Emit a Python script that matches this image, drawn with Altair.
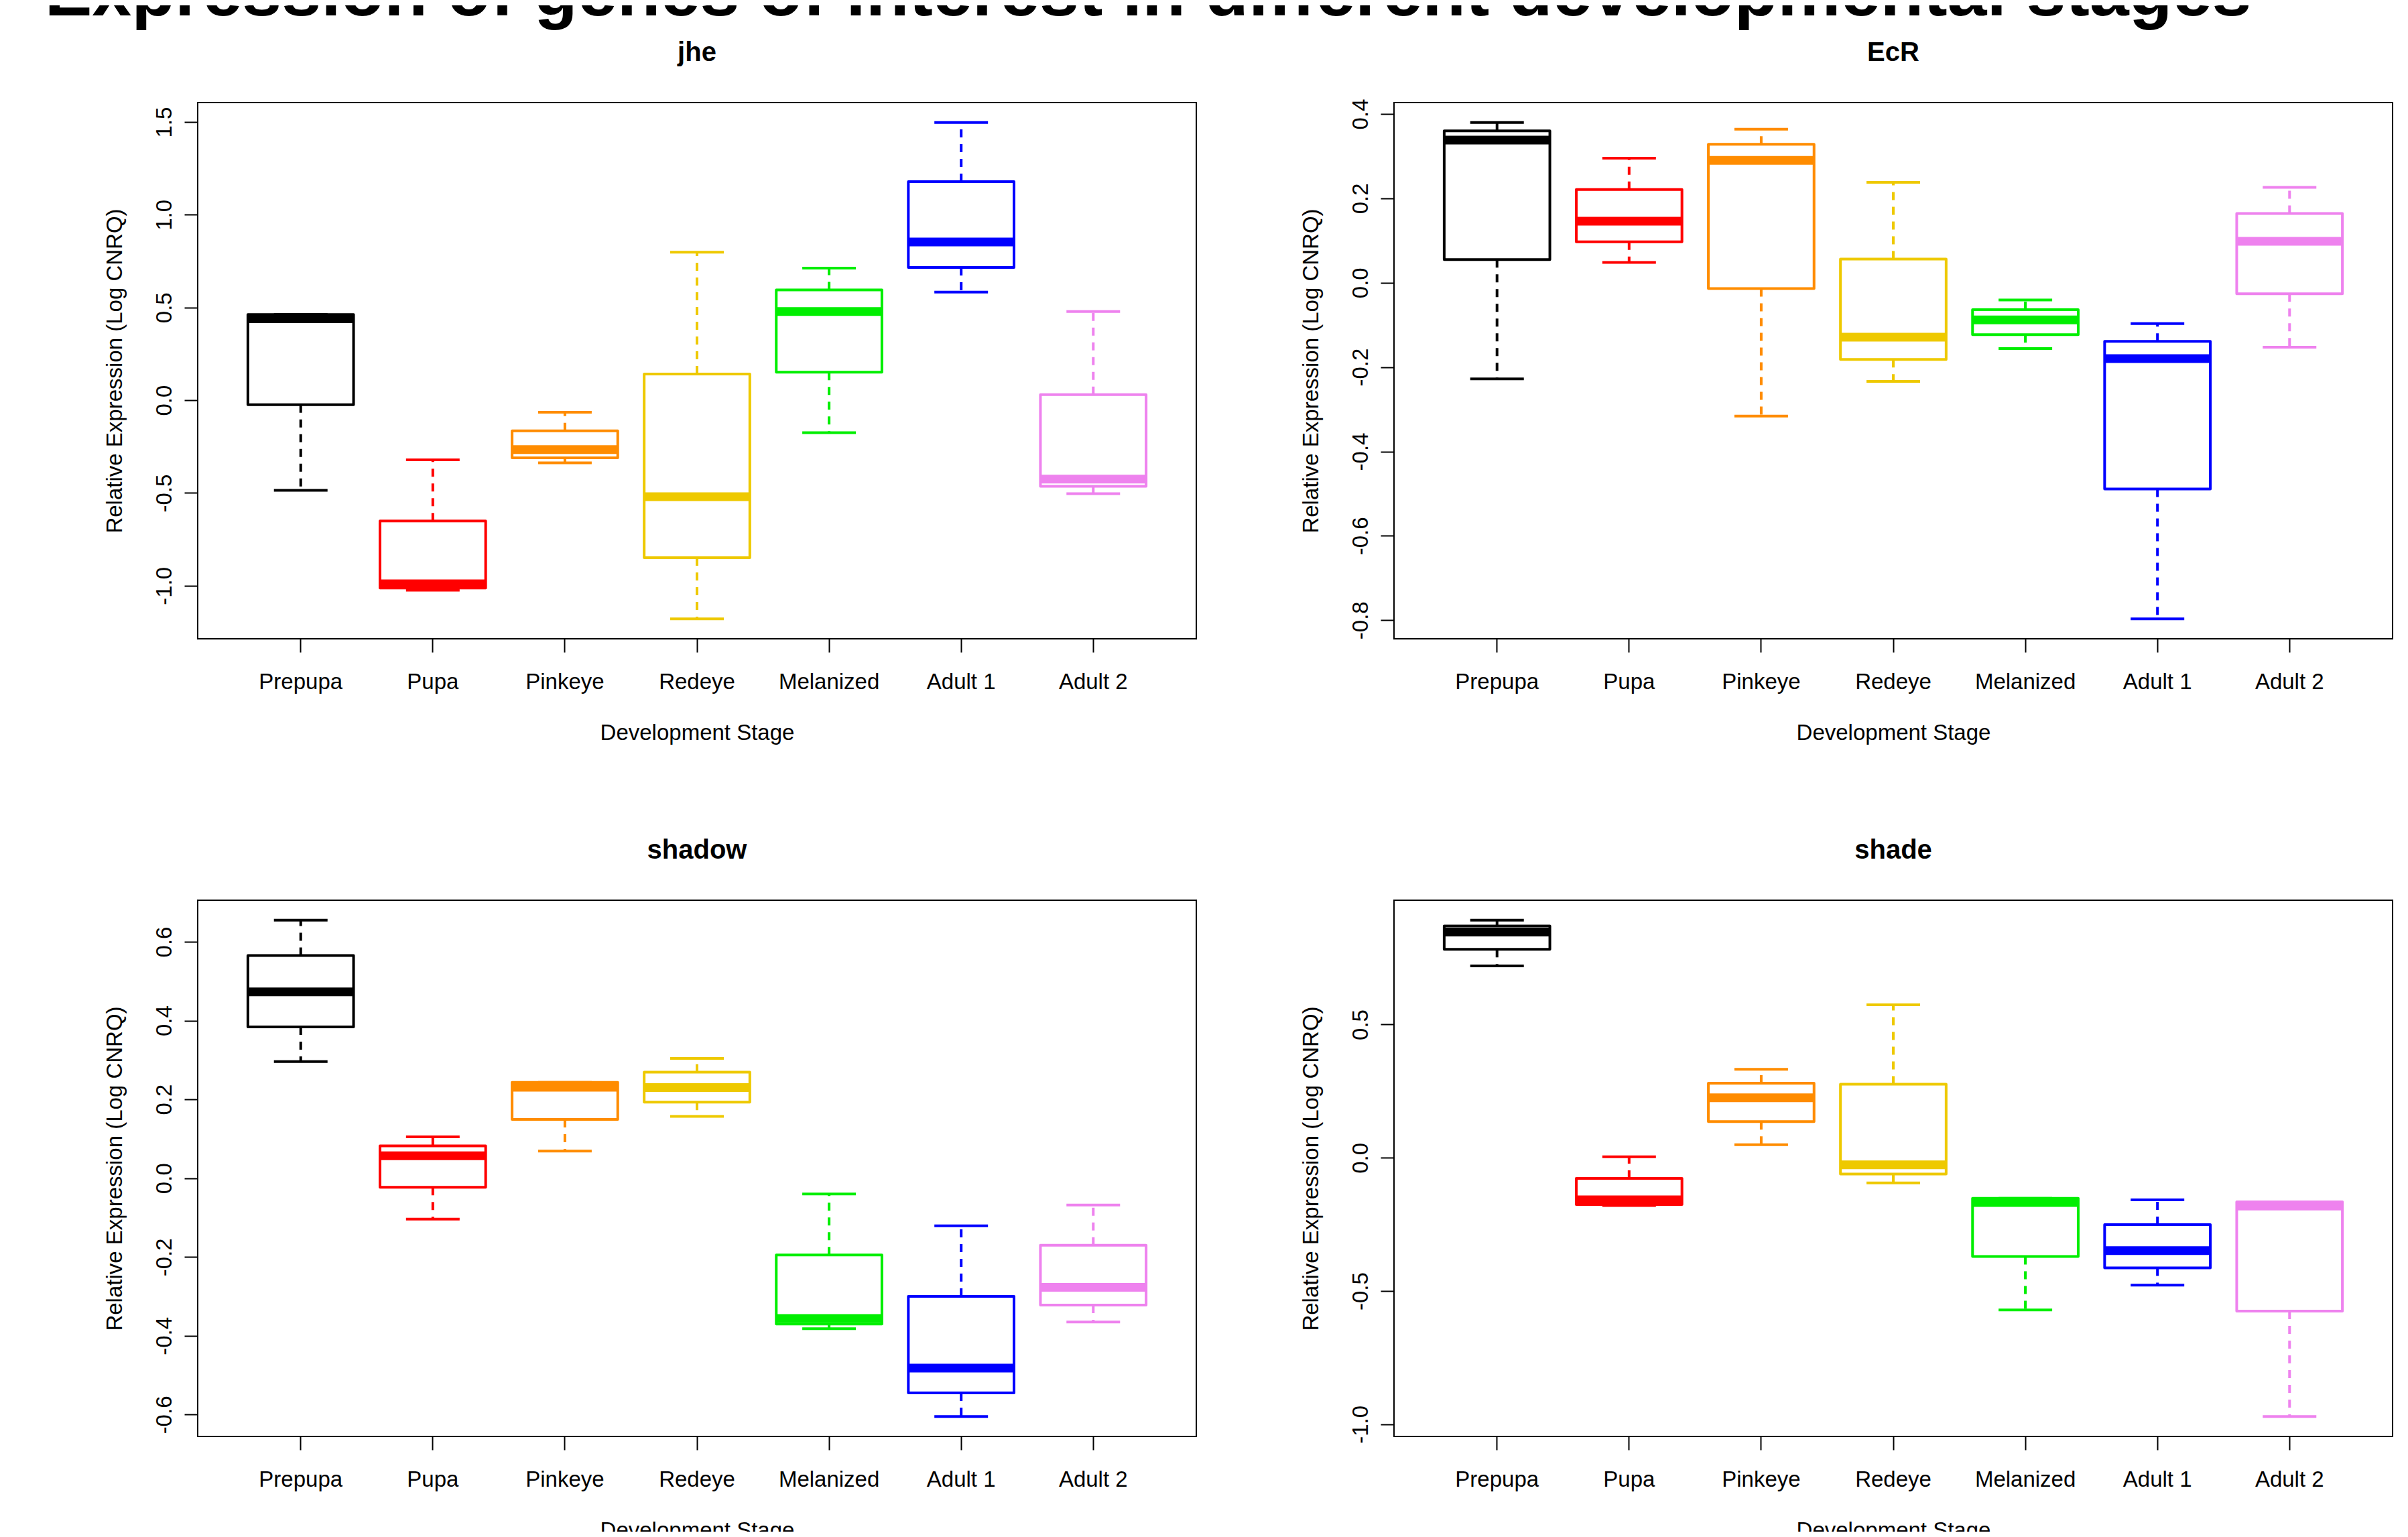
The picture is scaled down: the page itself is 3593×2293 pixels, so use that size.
import altair as alt
import pandas as pd

FONT = "Liberation Sans"

main_title = "Expression of genes of interest in different developmental stages"
x_title = "Development Stage"
y_title = "Relative Expression (Log CNRQ)"

stages = ["Prepupa", "Pupa", "Pinkeye", "Redeye", "Melanized", "Adult 1", "Adult 2"]
stage_colors = ["#000000", "#FF0000", "#FF8C00", "#EEC900", "#00EE00", "#0000FF", "#EE82EE"]

# jhe
jhe_min = [-0.486, -1.024, -0.337, -1.179, -0.175, 0.583, -0.504]
jhe_q1 = [-0.024, -1.012, -0.310, -0.849, 0.151, 0.716, -0.464]
jhe_med = [0.440, -0.990, -0.266, -0.520, 0.478, 0.853, -0.425]
jhe_q3 = [0.462, -0.651, -0.165, 0.141, 0.595, 1.179, 0.030]
jhe_max = [0.462, -0.321, -0.065, 0.798, 0.712, 1.498, 0.478]
jhe_ticks = [-1.0, -0.5, 0.0, 0.5, 1.0, 1.5]

# EcR
ecr_min = [-0.228, 0.048, -0.316, -0.234, -0.156, -0.797, -0.153]
ecr_q1 = [0.055, 0.097, -0.014, -0.182, -0.123, -0.489, -0.026]
ecr_med = [0.338, 0.146, 0.290, -0.129, -0.088, -0.180, 0.098]
ecr_q3 = [0.360, 0.221, 0.328, 0.056, -0.064, -0.139, 0.164]
ecr_max = [0.380, 0.295, 0.364, 0.238, -0.041, -0.097, 0.226]
ecr_ticks = [-0.8, -0.6, -0.4, -0.2, 0.0, 0.2, 0.4]

# shadow
shadow_min = [0.296, -0.104, 0.069, 0.157, -0.382, -0.605, -0.365]
shadow_q1 = [0.384, -0.023, 0.149, 0.193, -0.370, -0.545, -0.322]
shadow_med = [0.473, 0.057, 0.231, 0.230, -0.356, -0.482, -0.277]
shadow_q3 = [0.565, 0.082, 0.243, 0.269, -0.195, -0.300, -0.170]
shadow_max = [0.655, 0.105, 0.243, 0.304, -0.040, -0.121, -0.068]
shadow_ticks = [-0.6, -0.4, -0.2, 0.0, 0.2, 0.4, 0.6]

# shade
shade_min = [0.720, -0.179, 0.049, -0.094, -0.571, -0.478, -0.971]
shade_q1 = [0.782, -0.175, 0.136, -0.061, -0.370, -0.413, -0.575]
shade_med = [0.847, -0.158, 0.225, -0.026, -0.168, -0.348, -0.181]
shade_q3 = [0.870, -0.077, 0.280, 0.276, -0.152, -0.251, -0.165]
shade_max = [0.892, 0.004, 0.332, 0.574, -0.152, -0.158, -0.165]
shade_ticks = [-1.0, -0.5, 0.0, 0.5]

W, H = 1490, 800


def panel(gene, lo, q1, med, q3, hi, ticks, with_main=False):
    df = pd.DataFrame({"stage": stages, "color": stage_colors, "lo": lo,
                       "q1": q1, "med": med, "q3": q3, "hi": hi})
    vmin, vmax = min(lo), max(hi)
    ext = 0.04 * (vmax - vmin)
    yscale = alt.Scale(domain=[vmin - ext, vmax + ext], nice=False, zero=False)
    xaxis = alt.Axis(title=x_title, labelAngle=0, labelPadding=54,
                     labelBaseline="alphabetic", titleY=150,
                     titleBaseline="alphabetic")
    yaxis = alt.Axis(title=y_title, values=ticks, format=".1f",
                     labelExpr="replace(datum.label, '\u2212', '-')",
                     labelAngle=270, labelAlign="center",
                     labelBaseline="alphabetic", labelPadding=20,
                     titleX=-114, titleAngle=270, titleBaseline="alphabetic")
    xenc = alt.X("stage:N", sort=stages, axis=xaxis,
                 scale=alt.Scale(type="band", paddingInner=0.2, paddingOuter=0.38))
    col = alt.Color("color:N", scale=None)
    base = alt.Chart(df)

    upper = base.mark_rule(strokeWidth=4, strokeDash=[12, 10]).encode(
        x=xenc, y=alt.Y("q3:Q", scale=yscale, axis=yaxis), y2="hi:Q", color=col)
    lower = base.mark_rule(strokeWidth=4, strokeDash=[12, 10]).encode(
        x=xenc, y=alt.Y("q1:Q", scale=yscale, axis=yaxis), y2="lo:Q", color=col)
    box = base.mark_bar(fill="white", strokeWidth=4, strokeJoin="round").encode(
        x=xenc, y=alt.Y("q1:Q", scale=yscale, axis=yaxis), y2="q3:Q",
        stroke=alt.Stroke("color:N", scale=None))
    median = base.mark_tick(thickness=13, size=158, opacity=1).encode(
        x=xenc, y=alt.Y("med:Q", scale=yscale, axis=yaxis), color=col)
    cap_hi = base.mark_tick(thickness=4, size=80, opacity=1).encode(
        x=xenc, y=alt.Y("hi:Q", scale=yscale, axis=yaxis), color=col)
    cap_lo = base.mark_tick(thickness=4, size=80, opacity=1).encode(
        x=xenc, y=alt.Y("lo:Q", scale=yscale, axis=yaxis), color=col)

    gene_title = alt.Chart(pd.DataFrame({"t": [gene]})).mark_text(
        font=FONT, fontSize=40, fontWeight="bold", align="center",
        baseline="alphabetic", color="black").encode(
        text="t:N", x=alt.value(W / 2), y=alt.value(-62))

    layers = [upper, lower, box, median, cap_hi, cap_lo, gene_title]
    if with_main:
        layers.append(alt.Chart(pd.DataFrame({"t": [main_title]})).mark_text(
            font=FONT, fontSize=106, fontWeight="bold", align="center",
            baseline="alphabetic", color="black").encode(
            text="t:N", x=alt.value(1418), y=alt.value(-130)))
    return alt.layer(*layers).properties(width=W, height=H)


p1 = panel("jhe", jhe_min, jhe_q1, jhe_med, jhe_q3, jhe_max, jhe_ticks, with_main=True)
p2 = panel("EcR", ecr_min, ecr_q1, ecr_med, ecr_q3, ecr_max, ecr_ticks)
p3 = panel("shadow", shadow_min, shadow_q1, shadow_med, shadow_q3, shadow_max, shadow_ticks)
p4 = panel("shade", shade_min, shade_q1, shade_med, shade_q3, shade_max, shade_ticks)

chart = alt.concat(p1, p2, p3, p4, columns=2,
                   spacing={"row": 390, "column": 295}).properties(
    autosize=alt.AutoSizeParams(type="none"),
    padding={"left": 287, "top": 145, "right": 3290, "bottom": 2132},
    bounds="flush",
).configure(font=FONT, background="white").configure_view(
    stroke="black", strokeWidth=2
).configure_axis(
    domain=False, grid=False, ticks=True, tickColor="black", tickWidth=2,
    tickSize=20, labelFont=FONT, labelFontSize=33, labelColor="black",
    titleFont=FONT, titleFontSize=33, titleFontWeight="normal",
    titleColor="black", labelFlush=False, labelOverlap=False
)

chart.save("out.html", embed_options={"renderer": "svg", "actions": False})
